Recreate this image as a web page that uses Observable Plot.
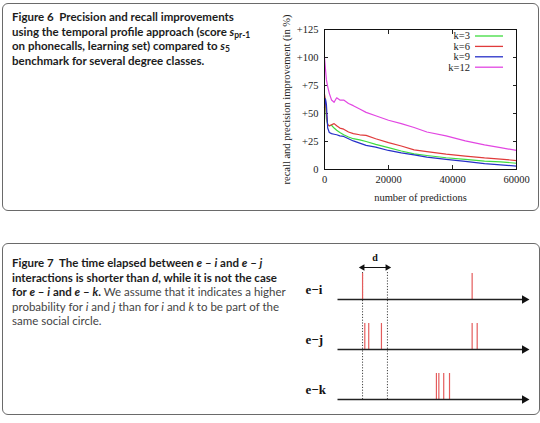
<!DOCTYPE html>
<html>
<head>
<meta charset="utf-8">
<script src="https://cdn.jsdelivr.net/npm/d3@7"></script>
<script src="https://cdn.jsdelivr.net/npm/@observablehq/plot@0.6"></script>
<style>
  html, body { margin: 0; padding: 0; background: #fff; }
  #page { position: relative; width: 540px; height: 423px; overflow: hidden; background: #fff; }
  .box { position: absolute; border: 1px solid #6a6a6a; border-radius: 6px; box-sizing: border-box; }
  .caption { position: absolute; left: 12px; font-family: Lato, "Open Sans", sans-serif; font-size: 11.5px; line-height: 14.5px; color: #444; white-space: nowrap; }
  .caption b { color: #1c1c1c; font-weight: 700; }
  .caption sub { font-size: 8.5px; vertical-align: -2px; line-height: 0; }
  .chart { position: absolute; }
</style>
</head>
<body>
<div id="page">
  <div class="box" style="left:2px; top:3px; width:537px; height:208px;"></div>
  <div class="box" style="left:2px; top:243px; width:538px; height:172px;"></div>

  <div class="caption" style="top:10px;">
    <b>Figure 6&nbsp; Precision and recall improvements<br>
    using the temporal profile approach (score <i>s</i><sub>pr-1</sub><br>
    on phonecalls, learning set) compared to <i>s</i><sub>5</sub><br>
    benchmark for several degree classes.</b>
  </div>

  <div class="caption" style="top:256px;">
    <b>Figure 7&nbsp; The time elapsed between <i>e</i> – <i>i</i> and <i>e</i> – <i>j</i><br>
    interactions is shorter than <i>d</i>, while it is not the case<br>
    for <i>e</i> – <i>i</i> and <i>e</i> – <i>k</i>.</b> We assume that it indicates a higher<br>
    probability for <i>i</i> and <i>j</i> than for <i>i</i> and <i>k</i> to be part of the<br>
    same social circle.
  </div>

  <div id="fig6" class="chart" style="left:280px; top:10px;"></div>
  <div id="fig7" class="chart" style="left:300px; top:245px;"></div>
</div>

<script>
// ---- Figure 6: improvement over the s5 benchmark per degree class ----
const degreeClasses = ["k=3", "k=6", "k=9", "k=12"];
const classColors = ["#3fdc3f", "#e03b3b", "#2630c8", "#e246e2"];
const predictions = [0, 300, 600, 1000, 1500, 2200, 3000, 3800, 4800, 6000, 7500, 9000, 11000, 13000, 16000, 20000, 24000, 28000, 32000, 38000, 44000, 50000, 55000, 60000];
const improvementK3  = [64, 58, 45, 40, 39, 39.5, 37, 35, 33, 31, 29, 27.5, 26.5, 25, 22.5, 19.5, 16.5, 14, 12.5, 10.5, 9, 7.5, 6.8, 5.6];
const improvementK6  = [67, 62, 50, 40, 39, 40, 41, 39, 37, 36, 33.5, 32, 31, 30.5, 27.5, 24, 21, 17.5, 16, 13.8, 12, 10.3, 9.3, 8];
const improvementK9  = [55, 63, 58, 37, 33, 32, 31.5, 31, 30, 29.5, 27.5, 25.5, 23.5, 21.5, 20, 17, 14.8, 13, 11, 9, 7.2, 5.3, 4.2, 3];
const improvementK12 = [100, 90, 80, 74, 68, 62, 60, 64, 62, 62, 59, 57, 54, 51, 48, 44, 41, 37.5, 33.5, 30, 25.5, 22, 19.5, 17];
const xTicks = [0, 20000, 40000, 60000];
const yTicks = [0, 25, 50, 75, 100, 125];

const seriesValues = [improvementK3, improvementK6, improvementK9, improvementK12];
const curves = degreeClasses.flatMap((k, i) =>
  predictions.map((n, j) => ({k, n, v: seriesValues[i][j]}))
);

const serif = "'Liberation Serif', 'DejaVu Serif', serif";
const signed = d => d === 0 ? "0" : "+" + d;

// key drawn inside the top-right corner of the frame
function keyMark(index, scales, values, dims) {
  const g = d3.create("svg:g").attr("font-family", serif).attr("font-size", 10.5);
  const right = dims.width - dims.marginRight;
  degreeClasses.forEach((k, i) => {
    const y = dims.marginTop + 7 + i * 10.4;
    g.append("text").attr("x", right - 46).attr("y", y).attr("dy", "0.32em")
      .attr("text-anchor", "end").attr("fill", "#222").text(k);
    g.append("line").attr("x1", right - 41).attr("x2", right - 13)
      .attr("y1", y).attr("y2", y)
      .attr("stroke", scales.color(k)).attr("stroke-width", 1.3);
  });
  return g.node();
}

const fig6 = Plot.plot({
  width: 250,
  height: 200,
  marginLeft: 44,
  marginRight: 14,
  marginTop: 19,
  marginBottom: 41,
  style: {fontFamily: serif, fontSize: "10.5px", color: "#222", background: "transparent", overflow: "visible"},
  x: {domain: [0, 60000]},
  y: {domain: [0, 125]},
  color: {domain: degreeClasses, range: classColors},
  marks: [
    Plot.axisX({ticks: xTicks, tickFormat: d => String(d), tickSize: -4, tickPadding: 10,
      label: "number of predictions", labelAnchor: "center", labelOffset: 31, labelArrow: "none"}),
    Plot.axisX({anchor: "top", ticks: xTicks, tickFormat: () => "", tickSize: -4, label: null}),
    Plot.axisY({ticks: yTicks, tickFormat: signed, tickSize: -4, tickPadding: 10,
      label: "recall and precision improvement (in %)", labelAnchor: "center", labelOffset: 42, labelArrow: "none"}),
    Plot.axisY({anchor: "right", ticks: yTicks, tickFormat: () => "", tickSize: -4, label: null}),
    Plot.line(curves, {x: "n", y: "v", stroke: "k", strokeWidth: 1.2}),
    Plot.frame({stroke: "#111", strokeWidth: 1}),
    keyMark
  ]
});
document.getElementById("fig6").append(fig6);

// ---- Figure 7: interaction timelines of ego e with i, j and k ----
const pairs = ["e−i", "e−j", "e−k"];
const timeDomain = [0, 100];
const interactionsEI = [13.4, 72];
const interactionsEJ = [14.6, 16.7, 23.5, 72, 74.7];
const interactionsEK = [52.9, 54.2, 56.8, 59.9];
const windowD = [13.4, 26.7];

const interactions = [interactionsEI, interactionsEJ, interactionsEK]
  .flatMap((times, i) => times.map(t => ({pair: pairs[i], t})));

const fig7 = Plot.plot({
  width: 239,
  height: 168,
  marginLeft: 37,
  marginRight: 15,
  marginTop: 27,
  marginBottom: 13,
  style: {fontFamily: serif, color: "#111", background: "transparent", overflow: "visible"},
  x: {domain: timeDomain, axis: null},
  y: {type: "band", domain: pairs, paddingInner: 0.49, paddingOuter: 0, axis: null},
  marks: [
    // the window d, carried down over all three timelines
    Plot.ruleX(windowD, {stroke: "#444", strokeWidth: 1, strokeDasharray: "1.2,1.6"}),
    // interactions
    Plot.tickX(interactions, {x: "t", y: "pair", stroke: "#e45c5c", strokeWidth: 1.2}),
    // time axes with arrowheads
    Plot.link(pairs, {x1: () => timeDomain[0], x2: () => timeDomain[1], y1: d => d, y2: d => d, dy: 13, stroke: "#222", strokeWidth: 1.5}),
    Plot.dot(pairs, {x: () => timeDomain[1], y: d => d, dy: 13, symbol: "triangle", rotate: 90, r: 3.2, fill: "#111", stroke: null}),
    // pair labels
    Plot.text(pairs, {y: d => d, text: d => d, frameAnchor: "left", dx: -32, dy: 3, textAnchor: "start",
      fontWeight: "bold", fontSize: 13, fontFamily: serif}),
    // width of the window d, drawn just above the first timeline
    Plot.link([windowD], {x1: d => d[0], x2: d => d[1], y1: () => pairs[0], y2: () => pairs[0], dy: -19, stroke: "#111", strokeWidth: 1}),
    Plot.dot(windowD, {x: d => d, y: () => pairs[0], dy: -19, symbol: "triangle", rotate: (d, i) => i === 0 ? -90 : 90, r: 2.4, fill: "#111", stroke: null}),
    Plot.text(["d"], {x: () => (windowD[0] + windowD[1]) / 2, y: () => pairs[0], text: d => d, dy: -29,
      fontWeight: "bold", fontSize: 10, fontFamily: serif})
  ]
});
document.getElementById("fig7").append(fig7);
</script>
</body>
</html>
